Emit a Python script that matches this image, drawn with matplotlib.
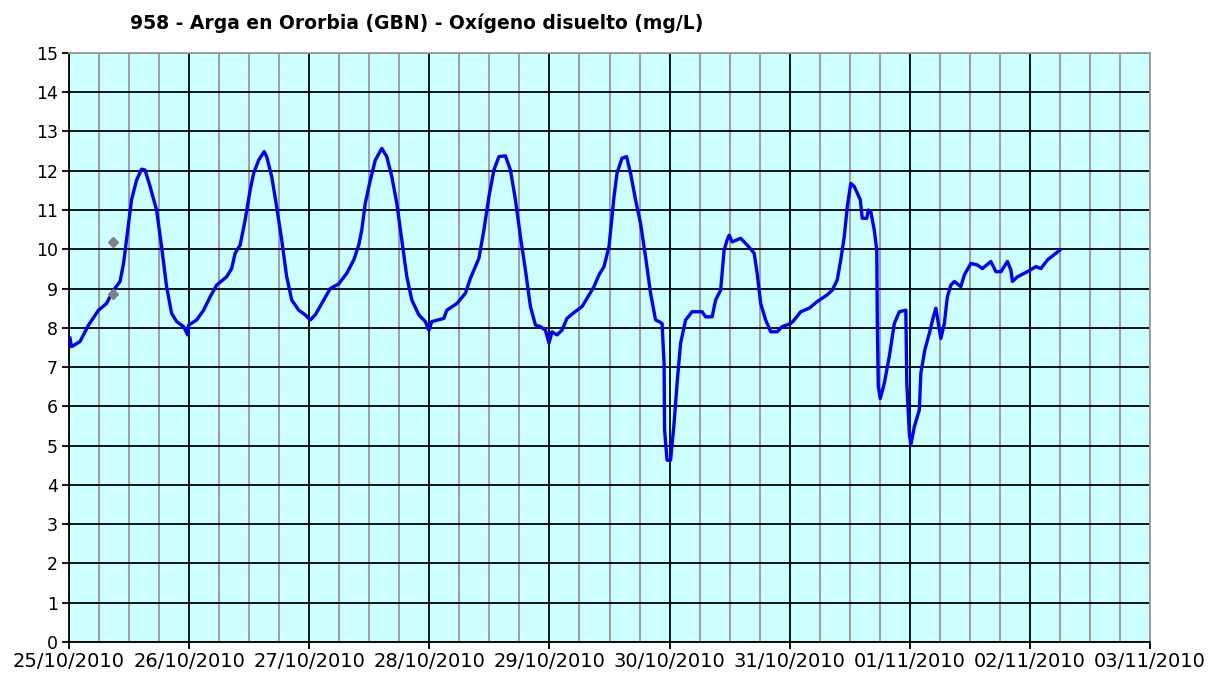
import numpy as np
import matplotlib.pyplot as plt
from matplotlib.ticker import MultipleLocator

# hours since 25/10/2010 00:00 and dissolved oxygen (mg/L)
hours = [0.2, 0.5, 2.2, 3.9, 5.9, 7.5, 8.9, 10.2, 10.9, 11.9, 12.5, 13.5, 14.5, 15.2,
         16.2, 17.5, 18.5, 19.5, 20.5, 21.5, 22.9, 23.7, 23.9, 25.5, 26.9, 28.2, 29.5,
         31.5, 32.5, 33.2, 34.2, 35.2, 36.2, 36.9, 37.9, 39.0, 39.5, 40.5, 41.5, 42.5,
         43.5, 44.5, 45.9, 47.2, 48.2, 49.2, 50.5, 52.2, 53.9, 55.5, 56.9, 57.9, 58.5,
         59.2, 60.2, 61.2, 62.5, 63.5, 64.5, 65.5, 66.5, 67.5, 68.5, 69.9, 71.2, 71.9,
         72.5, 74.9, 75.5, 77.5, 79.2, 80.2, 81.9, 82.9, 83.9, 84.9, 85.9, 87.2, 88.2,
         89.2, 90.2, 91.2, 92.2, 93.2, 94.2, 95.2, 95.9, 96.5, 97.5, 98.5, 99.5, 100.9,
         102.5, 103.5, 104.9, 105.9, 106.9, 107.9, 108.3, 108.9, 109.5, 110.5, 111.4,
         112.2, 113.2, 114.2, 115.2, 116.2, 117.2, 117.9, 118.5, 118.9, 119.0, 119.5,
         120.2, 120.9, 121.5, 122.2, 123.2, 124.5, 126.5, 127.2, 128.5, 129.2, 130.2,
         130.9, 131.5, 131.9, 132.5, 134.2, 135.5, 136.9, 137.5, 138.2, 139.2, 140.2,
         141.5, 142.5, 144.2, 144.9, 146.2, 147.9, 149.5, 151.5, 152.5, 153.5, 154.2,
         154.9, 155.5, 156.2, 156.9, 158.1, 158.5, 159.4, 159.7, 160.2, 160.9, 161.4,
         161.5, 161.7, 162.1, 162.9, 163.9, 164.9, 165.9, 167.2, 167.4, 167.9, 168.2,
         168.9, 169.9, 170.2, 171.0, 171.9, 172.7, 173.2, 174.2, 174.9, 175.5, 176.2,
         176.9, 178.2, 178.9, 180.2, 181.5, 182.5, 184.2, 185.2, 186.2, 187.5, 188.2,
         188.5, 189.5, 191.5, 193.2, 194.2, 195.5, 197.9]
oxygen = [7.74, 7.52, 7.65, 8.07, 8.45, 8.62, 8.96, 9.18, 9.64, 10.66, 11.26, 11.76, 12.04, 12.02,
          11.6, 11.0, 10.07, 9.05, 8.37, 8.16, 8.03, 7.82, 8.07, 8.2, 8.45, 8.79, 9.09,
          9.3, 9.51, 9.9, 10.11, 10.75, 11.51, 11.94, 12.27, 12.49, 12.36, 11.85, 11.08, 10.24,
          9.3, 8.71, 8.45, 8.33, 8.2, 8.33, 8.62, 9.0, 9.12, 9.39, 9.73, 10.11, 10.49,
          11.17, 11.76, 12.27, 12.57, 12.36, 11.85, 11.17, 10.24, 9.3, 8.71, 8.33, 8.16, 7.94,
          8.16, 8.24, 8.45, 8.62, 8.88, 9.26, 9.77, 10.49, 11.34, 12.02, 12.36, 12.38, 12.02,
          11.26, 10.32, 9.47, 8.54, 8.07, 8.03, 7.94, 7.61, 7.9, 7.82, 7.94, 8.24, 8.39,
          8.54, 8.75, 9.05, 9.35, 9.56, 10.07, 10.58, 11.34, 11.94, 12.32, 12.36,
          11.94, 11.26, 10.66, 9.81, 8.88, 8.2, 8.16, 8.11, 7.1, 5.4, 4.63,
          4.63, 5.57, 6.59, 7.61, 8.2, 8.41, 8.41, 8.28, 8.28, 8.71, 8.96,
          9.98, 10.24, 10.36, 10.19, 10.28, 10.11, 9.9, 9.39, 8.62, 8.2, 7.9,
          7.9, 8.03, 8.11, 8.2, 8.41, 8.5, 8.67, 8.84, 8.96, 9.22, 9.73,
          10.32, 11.08, 11.68, 11.6, 11.26, 10.79, 10.79, 11.0, 10.96, 10.49, 9.98,
          8.2, 6.5, 6.2, 6.59, 7.27, 8.11, 8.41, 8.45, 6.59, 5.31, 5.02,
          5.48, 5.91, 6.84, 7.44, 7.86, 8.28, 8.5, 7.73, 8.11, 8.79, 9.09,
          9.18, 9.05, 9.35, 9.64, 9.6, 9.51, 9.69, 9.43, 9.43, 9.69, 9.47,
          9.18, 9.3, 9.43, 9.56, 9.51, 9.73, 9.97]

# two isolated samples (grey diamonds)
extra_hours = [8.8, 8.8]
extra_oxygen = [10.18, 8.86]

date_labels = ['25/10/2010', '26/10/2010', '27/10/2010', '28/10/2010', '29/10/2010',
               '30/10/2010', '31/10/2010', '01/11/2010', '02/11/2010', '03/11/2010']

days = np.array(hours) / 24.0
extra_days = np.array(extra_hours) / 24.0

fig = plt.figure(figsize=(12.21, 6.79), dpi=100)
ax = fig.add_axes([0.0565, 0.0545, 0.8854, 0.8675])
ax.set_facecolor('#CCFFFF')

ax.set_xlim(0, len(date_labels) - 1)
ax.set_ylim(0, 15)
ax.set_xticks(range(len(date_labels)))
ax.set_xticklabels(date_labels)
ax.xaxis.set_minor_locator(MultipleLocator(0.25))
ax.yaxis.set_major_locator(MultipleLocator(1))

ax.grid(which='minor', axis='x', color='#A0A0A0', linewidth=1.5)
ax.grid(which='major', axis='both', color='black', linewidth=1.3)
ax.set_axisbelow(True)

ax.tick_params(axis='both', which='major', length=5, width=1.3, pad=3)
ax.tick_params(axis='y', labelsize=12.5)
ax.tick_params(axis='x', labelsize=14, pad=2)
ax.tick_params(axis='x', which='minor', length=0)
for sp in ax.spines.values():
    sp.set_linewidth(1.3)
ax.spines['top'].set_color('#A0A0A0')
ax.spines['right'].set_color('#A0A0A0')

ax.plot(days, oxygen, color='#0000FF', linewidth=2.4, zorder=3)
ax.plot(extra_days, extra_oxygen, linestyle='none', marker='D', markersize=5,
        color='#808080', zorder=4)

fig.text(0.341, 0.966, '958 - Arga en Ororbia (GBN) - Oxígeno disuelto (mg/L)',
         ha='center', va='center', fontsize=13.5, fontweight='bold')

fig.savefig('out.png', dpi=100)
